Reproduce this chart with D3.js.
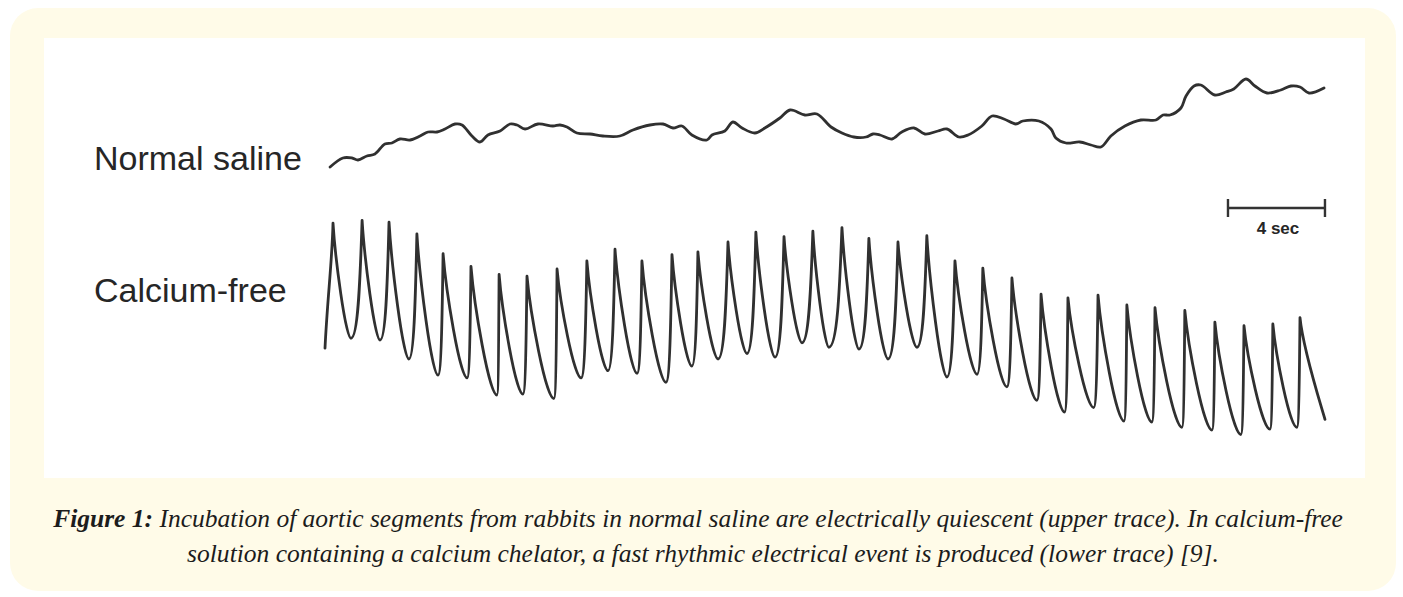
<!DOCTYPE html>
<html>
<head>
<meta charset="utf-8">
<script src="https://cdn.jsdelivr.net/npm/d3@7"></script>
<style>
    html, body { margin: 0; padding: 0; background: #ffffff; }
    svg { display: block; }
    .trace { fill: none; stroke: #303030; stroke-width: 2.8; stroke-linejoin: round; stroke-linecap: round; }
    .label { font-family: "Liberation Sans", Arial, sans-serif; fill: #262626; }
    .caption { font-family: "Liberation Serif", "Times New Roman", serif; font-style: italic; fill: #1c1c1c; }
</style>
</head>
<body>
<div id="chart"></div>
<script>
'use strict';

// Upper trace (normal saline): time in s, potential in arbitrary units
const salineT = [0.21, 0.74, 1.11, 1.36, 1.73, 2.06, 2.47, 2.76, 3.09, 3.51, 3.92, 4.25, 4.62, 4.95, 5.36, 5.65,
    6.06, 6.39, 6.72, 7.22, 7.63, 7.92, 8.25, 8.78, 9.40, 9.69, 9.98, 10.39, 10.93, 11.46, 12.16, 12.70,
    13.40, 13.94, 14.35, 14.72, 15.13, 15.75, 15.96, 16.49, 16.82, 17.20, 17.73, 18.14, 18.76, 19.18,
    19.79, 20.29, 20.87, 21.32, 21.81, 22.31, 22.60, 22.89, 23.38, 23.79, 24.29, 24.74, 25.28, 25.65,
    26.14, 26.52, 27.09, 27.51, 28.00, 28.49, 28.78, 29.44, 29.94, 30.14, 30.56, 31.13, 31.59, 32.00,
    32.41, 32.99, 33.65, 34.27, 34.56, 34.85, 35.30, 35.51, 35.84, 36.12, 36.70, 37.15, 37.48, 37.98,
    38.35, 38.85, 39.42, 39.84, 40.21, 40.58, 41.20];
const salineV = [0.3, 1.2, 1.2, 1.0, 1.4, 1.6, 2.6, 2.7, 3.1, 3.0, 3.4, 3.8, 3.8, 4.1, 4.6, 4.5,
    3.4, 2.8, 3.5, 3.9, 4.6, 4.5, 4.1, 4.6, 4.4, 4.5, 4.3, 3.7, 3.6, 3.4, 3.4, 4.0,
    4.5, 4.6, 4.2, 4.4, 3.5, 3.0, 3.5, 3.9, 4.8, 4.2, 3.7, 4.2, 5.2, 6.0,
    5.5, 5.6, 4.3, 3.7, 3.3, 3.3, 3.6, 3.5, 3.1, 3.8, 4.2, 3.6, 3.9, 4.1,
    3.3, 3.5, 4.4, 5.4, 5.1, 4.6, 4.9, 4.9, 4.1, 3.2, 2.7, 2.8, 2.5, 2.3,
    3.4, 4.4, 5.0, 5.0, 5.5, 5.5, 6.2, 7.4, 8.4, 8.5, 7.5, 7.8, 8.1, 9.1,
    8.4, 7.7, 8.0, 8.4, 8.3, 7.7, 8.2];

// Lower trace (calcium-free): spike peaks and the troughs after them
const peakT = [0.33, 1.53, 2.64, 3.79, 4.87, 6.02, 7.18, 8.33, 9.57, 10.80, 11.96, 13.07, 14.31, 15.38,
    16.62, 17.77, 18.93, 20.12, 21.32, 22.43, 23.63, 24.82, 25.98, 27.13, 28.33, 29.53, 30.64, 31.88,
    33.07, 34.23, 35.46, 36.70, 37.90, 39.09, 40.21];
const peakV = [24.1, 24.4, 24.2, 22.9, 20.7, 19.3, 18.4, 18.2, 19.0, 19.9, 21.2, 19.9, 20.6, 20.9,
    22.0, 23.1, 22.6, 23.2, 23.6, 22.4, 22.0, 22.7, 19.9, 19.1, 18.0, 16.2, 15.8, 16.1,
    15.0, 14.7, 14.4, 13.1, 12.7, 12.9, 13.6];
const troughT = [1.07, 2.27, 3.46, 4.66, 5.86, 7.09, 8.16, 9.44, 10.56, 11.67, 12.87, 14.06, 15.13, 16.21,
    17.40, 18.56, 19.67, 20.78, 22.02, 23.22, 24.41, 25.65, 26.89, 28.12, 29.36, 30.50, 31.70, 32.95,
    34.10, 35.34, 36.58, 37.77, 38.97, 40.08];
const troughV = [11.3, 11.1, 9.0, 7.2, 6.9, 5.0, 5.1, 4.6, 6.9, 7.7, 7.4, 6.4, 8.2, 9.0,
    9.6, 9.2, 10.8, 10.3, 10.1, 9.0, 10.3, 7.0, 7.3, 5.9, 4.4, 3.1, 3.6, 2.1,
    2.0, 1.4, 1.1, 0.6, 1.2, 1.4];
const calciumStart = [0.00, 10.2];
const calciumEnd = [41.24, 2.3];

// Labels
const traceLabels = ['Normal saline', 'Calcium-free'];
const scaleBar = [37.24, 41.24];
const scaleBarLabel = '4 sec';
const captionBold = 'Figure 1:';
const captionLines = [
    ' Incubation of aortic segments from rabbits in normal saline are electrically quiescent (upper trace). In calcium-free',
    'solution containing a calcium chelator, a fast rhythmic electrical event is produced (lower trace) [9].'
];

class Traces {

    constructor(_ref) {
        this.parent = _ref;
        this.initVis();
    }

    initVis() {
        const vis = this;

        // Config
        vis.w = 1403;
        vis.h = 597;

        vis.svg = d3.select(`#${vis.parent}`)
            .append('svg')
            .attr('width', vis.w)
            .attr('height', vis.h);

        // Cream frame + white panel
        vis.svg.append('rect')
            .attr('x', 10).attr('y', 8)
            .attr('width', 1386).attr('height', 583)
            .attr('rx', 28)
            .attr('fill', '#fffbe8');
        vis.svg.append('rect')
            .attr('x', 44).attr('y', 38)
            .attr('width', 1321).attr('height', 440)
            .attr('fill', '#ffffff');

        // Scales
        vis.xScale = d3.scaleLinear()
            .domain([0, 41.2])
            .range([325, 1324]);
        vis.yTop = d3.scaleLinear()
            .domain([0, 10])
            .range([170, 70]);
        vis.yLow = d3.scaleLinear()
            .domain([0, 25])
            .range([440, 215]);

        vis.g = vis.svg.append('g');

        vis.updateVis();
    }

    updateVis() {
        const vis = this;

        // Upper trace
        const saline = salineT.map((t, i) => [t, salineV[i]]);
        const line = d3.line()
            .x(d => vis.xScale(d[0]))
            .y(d => vis.yTop(d[1]))
            .curve(d3.curveCatmullRom.alpha(0.5));
        vis.g.append('path')
            .datum(saline)
            .attr('class', 'trace')
            .attr('d', line);

        // Lower trace: fast rise, slower decay per spike
        const p = d3.path();
        const pt = (t, v) => [vis.xScale(t), vis.yLow(v)];
        let a = pt(calciumStart[0], calciumStart[1]);
        p.moveTo(a[0], a[1]);
        peakT.forEach((t, i) => {
            const b = pt(t, peakV[i]);
            // rise
            const rdx = b[0] - a[0], rdy = b[1] - a[1];
            if (i === 0) {
                p.bezierCurveTo(a[0] + rdx * 0.3, a[1] + rdy * 0.4, b[0] - rdx * 0.1, b[1] - rdy * 0.3, b[0], b[1]);
            } else {
                p.bezierCurveTo(a[0] + rdx * 0.7, a[1], b[0] - rdx * 0.15, b[1] - rdy * 0.4, b[0], b[1]);
            }
            // decay
            const last = i === peakT.length - 1;
            const c = last ? pt(calciumEnd[0], calciumEnd[1]) : pt(troughT[i], troughV[i]);
            const dx = c[0] - b[0], dy = c[1] - b[1];
            if (last) {
                p.bezierCurveTo(b[0] + dx * 0.12, b[1] + dy * 0.3, c[0] - dx * 0.3, c[1] - dy * 0.25, c[0], c[1]);
            } else {
                p.bezierCurveTo(b[0] + dx * 0.12, b[1] + dy * 0.3, c[0] - dx * 0.3, c[1], c[0], c[1]);
            }
            a = c;
        });
        vis.g.append('path')
            .attr('class', 'trace')
            .attr('d', p.toString());

        // Trace labels
        vis.g.selectAll('.label.trace-name')
            .data(traceLabels)
            .join('text')
            .attr('class', 'label trace-name')
            .attr('x', 94)
            .attr('y', (d, i) => [170, 302][i])
            .attr('font-size', 34)
            .text(d => d);

        // Scale bar
        const sb = vis.g.append('g').attr('class', 'scalebar');
        const sbY = 208;
        sb.append('line')
            .attr('x1', vis.xScale(scaleBar[0])).attr('x2', vis.xScale(scaleBar[1]))
            .attr('y1', sbY).attr('y2', sbY)
            .attr('stroke', '#333').attr('stroke-width', 2.4);
        sb.selectAll('.tick')
            .data(scaleBar)
            .join('line')
            .attr('class', 'tick')
            .attr('x1', d => vis.xScale(d)).attr('x2', d => vis.xScale(d))
            .attr('y1', sbY - 9).attr('y2', sbY + 9)
            .attr('stroke', '#333').attr('stroke-width', 2.4);
        sb.append('text')
            .attr('class', 'label')
            .attr('x', 1278)
            .attr('y', 234)
            .attr('text-anchor', 'middle')
            .attr('font-size', 17)
            .attr('font-weight', 'bold')
            .attr('fill', '#3a3a3a')
            .text(scaleBarLabel);

        // Caption
        const cap = vis.svg.append('text')
            .attr('class', 'caption')
            .attr('font-size', 20)
            .attr('text-anchor', 'middle');
        const l1 = cap.append('tspan').attr('x', 698).attr('y', 527);
        l1.append('tspan').attr('font-weight', 'bold').text(captionBold);
        l1.append('tspan').text(captionLines[0]);
        cap.append('tspan').attr('x', 703).attr('y', 562).text(captionLines[1]);

        // Fit line 1 to its width in the reference
        const len = cap.node().getSubStringLength(0, captionBold.length + captionLines[0].length);
        cap.attr('font-size', 20 * 1290 / len);
    }
}

new Traces('chart');
</script>
</body>
</html>
